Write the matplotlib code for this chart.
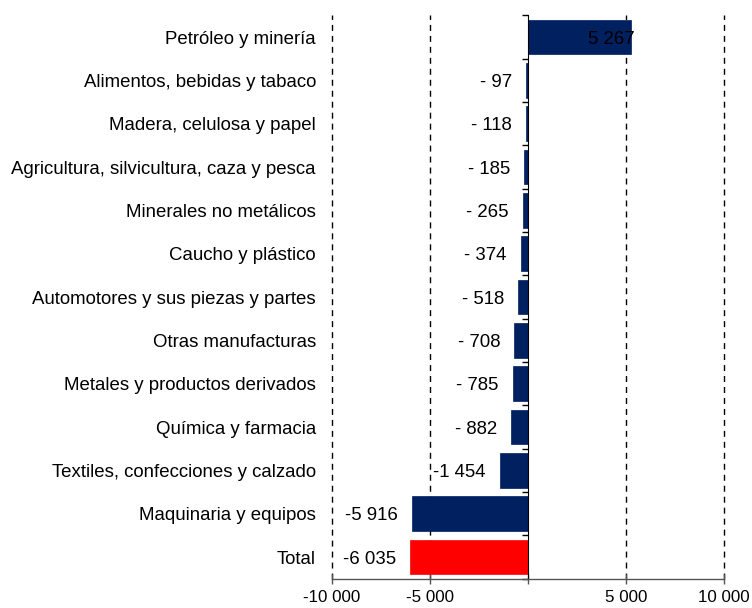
import matplotlib.pyplot as plt
import matplotlib.transforms as mtransforms

plt.rcParams['font.family'] = ['Liberation Sans', 'DejaVu Sans']

# Sectores y variación
sectores = [
    "Petróleo y minería",
    "Alimentos, bebidas y tabaco",
    "Madera, celulosa y papel",
    "Agricultura, silvicultura, caza y pesca",
    "Minerales no metálicos",
    "Caucho y plástico",
    "Automotores y sus piezas y partes",
    "Otras manufacturas",
    "Metales y productos derivados",
    "Química y farmacia",
    "Textiles, confecciones y calzado",
    "Maquinaria y equipos",
    "Total",
]
valores = [5267, -97, -118, -185, -265, -374, -518, -708, -785, -882, -1454, -5916, -6035]
etiquetas = ["5 267", "- 97", "- 118", "- 185", "- 265", "- 374", "- 518", "- 708",
             "- 785", "- 882", "-1 454", "-5 916", "-6 035"]
xticks = [-10000, -5000, 0, 5000, 10000]
xticklabels = ["-10 000", "-5 000", "", "5 000", "10 000"]

navy = "#002060"
rojo = "#FF0000"
colores = [navy] * (len(sectores) - 1) + [rojo]
fs = 13.4

fig = plt.figure(figsize=(7.52, 6.08), dpi=100)
ax = fig.add_axes([0.4415, 0.0482, 0.9628 - 0.4415, 0.9748 - 0.0482])

n = len(sectores)
ypos = list(range(n))
ax.barh(ypos, valores, height=0.8, color=colores, edgecolor=colores, linewidth=0.5, zorder=3)

ax.set_xlim(-10000, 10000)
ax.set_ylim(n - 0.5, -0.5)

# lineas de cuadricula discontinuas
for x in [-10000, -5000, 5000, 10000]:
    ax.axvline(x, color="black", linestyle=(0, (4.3, 3.6)), linewidth=1, zorder=1, clip_on=False)

for s in ["top", "right"]:
    ax.spines[s].set_visible(False)
ax.spines["left"].set_position(("data", 0))
ax.spines["left"].set_color("black")
ax.spines["left"].set_zorder(4)
ax.spines["bottom"].set_color("#555555")
ax.spines["bottom"].set_linewidth(1)
ax.spines["bottom"].set_zorder(4)

ax.set_yticks([i - 0.5 for i in range(n + 1)])
ax.set_yticklabels([])
ax.tick_params(axis="y", direction="out", length=4, width=1, color="black")

ax.set_xticks(xticks)
ax.set_xticklabels(xticklabels, fontsize=12.2)
ax.tick_params(axis="x", direction="inout", length=7, width=1, color="#555555", pad=5)

# texto centrado por la altura de mayúsculas
trans = mtransforms.blended_transform_factory(ax.transAxes, ax.transData)
trans = mtransforms.offset_copy(trans, fig=fig, x=0, y=-6.6, units="dots")
for i, nombre in enumerate(sectores):
    ax.text(-0.041, i, nombre, transform=trans, ha="right", va="baseline", fontsize=fs)

off = mtransforms.offset_copy(ax.transData, fig=fig, x=-14, y=-6.6, units="dots")
off_pos = mtransforms.offset_copy(ax.transData, fig=fig, x=3, y=-6.6, units="dots")
for i, (v, lab) in enumerate(zip(valores, etiquetas)):
    if v < 0:
        ax.text(v, i, lab, transform=off, ha="right", va="baseline", fontsize=fs, zorder=5)
    else:
        ax.text(v, i, lab, transform=off_pos, ha="right", va="baseline", fontsize=fs, zorder=5)

fig.savefig("out.png", dpi=100)
